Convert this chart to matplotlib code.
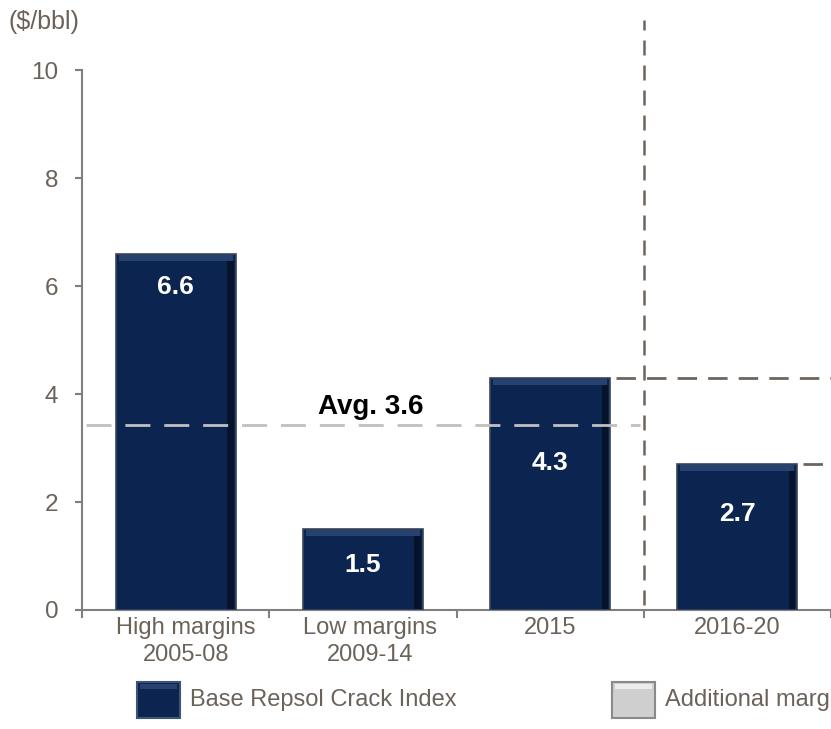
import matplotlib.pyplot as plt
from matplotlib.patches import Rectangle
from matplotlib.transforms import ScaledTranslation

plt.rcParams['font.family'] = ['Liberation Sans', 'DejaVu Sans']

categories = ['High margins\n2005-08', 'Low margins\n2009-14', '2015', '2016-20']
values = [6.6, 1.5, 4.3, 2.7]
value_labels = ['6.6', '1.5', '4.3', '2.7']
label_levels = [5.99, 0.83, 2.72, 1.78]
avg_label = 'Avg. 3.6'
avg_level = 3.43
legend_labels = ['Base Repsol Crack Index', 'Additional margin']

txt = '#6b625a'
navy = '#0c2550'
dash_dark = '#6e655d'

fig = plt.figure(figsize=(8.31, 7.29), dpi=100)
ax = fig.add_axes([82 / 831, 1 - 610 / 729, 1 - 82 / 831, 540 / 729])

x = list(range(len(categories)))
w = 0.64
ax.bar(x, values, width=w, color=navy, edgecolor='#3a465a', linewidth=1.2, zorder=3)
# bevel: lighter top strip and dark right shadow
for xi, v in zip(x, values):
    ax.add_patch(Rectangle((xi - w / 2 + 0.015, v - 0.13), w - 0.03, 0.11,
                           facecolor='#284270', edgecolor='none', zorder=4))
    ax.add_patch(Rectangle((xi + w / 2 - 0.045, 0.02), 0.035, v - 0.15,
                           facecolor='#06132b', edgecolor='none', zorder=4))

for xi, lp, lab in zip(x, label_levels, value_labels):
    ax.text(xi, lp, lab, ha='center', va='center', color='white',
            fontsize=19, fontweight='bold', zorder=5)

# average line
ax.plot([-0.48, 2.48], [avg_level, avg_level], color='#c0c0c0', lw=2,
        dashes=(9, 5), zorder=5)
ax.text(1.04, 3.76, avg_label, ha='center', va='center',
        fontsize=20, fontweight='bold', color='black', zorder=6)

# projection separators
ax.plot([2.5, 2.5], [0.1, 10.93], color=dash_dark, lw=1.8, dashes=(6, 4),
        clip_on=False, zorder=2)
ax.plot([2 + w / 2 + 0.03, 3.5], [values[2], values[2]], color=dash_dark, lw=2,
        dashes=(7, 4), clip_on=False, zorder=2)
ax.plot([3 + w / 2 + 0.03, 3.5], [values[3], values[3]], color=dash_dark, lw=2,
        dashes=(7, 4), clip_on=False, zorder=2)

ax.set_xlim(-0.5, 3.5)
ax.set_ylim(0, 10)
ax.set_yticks([0, 2, 4, 6, 8, 10])
ax.set_xticks([i - 0.5 for i in range(len(categories) + 1)])
ax.set_xticklabels([])
ax.set_xticks(x, minor=True)
ax.set_xticklabels(categories, minor=True, fontsize=17, color=txt, linespacing=1.27)
ax.tick_params(axis='x', which='minor', length=0, pad=5)
ax.tick_params(axis='x', which='major', length=6, direction='out', color='#808080', width=1.5)
ax.tick_params(axis='y', length=5, color='#808080', width=1.5, labelsize=17.5,
               labelcolor=txt, pad=12)
# first two category labels sit slightly right of their bars
for lbl, dx in zip(ax.get_xticklabels(minor=True), [10, 7, 0, 0]):
    lbl.set_transform(lbl.get_transform() + ScaledTranslation(dx / 100, 0, fig.dpi_scale_trans))
for s in ['top', 'right']:
    ax.spines[s].set_visible(False)
for s in ['left', 'bottom']:
    ax.spines[s].set_color('#808080')
    ax.spines[s].set_linewidth(1.5)

fig.text(8 / 831, 1 - 22 / 729, '($/bbl)', fontsize=18, color=txt, va='center')

# legend
fig.add_artist(Rectangle((137 / 831, 1 - 718 / 729), 43 / 831, 36 / 729,
                         transform=fig.transFigure, facecolor=navy,
                         edgecolor='#3c5478', linewidth=1.5))
fig.add_artist(Rectangle((140 / 831, 1 - 689 / 729), 37 / 831, 5 / 729,
                         transform=fig.transFigure, facecolor='#284270', edgecolor='none'))
fig.text(190 / 831, 1 - 700 / 729, legend_labels[0], fontsize=17, color=txt, va='center')
fig.add_artist(Rectangle((612 / 831, 1 - 718 / 729), 43 / 831, 36 / 729,
                         transform=fig.transFigure, facecolor='#cfcfcf',
                         edgecolor='#8a8a8a', linewidth=1.5))
fig.add_artist(Rectangle((615 / 831, 1 - 689 / 729), 37 / 831, 5 / 729,
                         transform=fig.transFigure, facecolor='#ececec', edgecolor='none'))
fig.text(665 / 831, 1 - 700 / 729, legend_labels[1], fontsize=17, color=txt, va='center')

fig.savefig('out.png', dpi=100)
